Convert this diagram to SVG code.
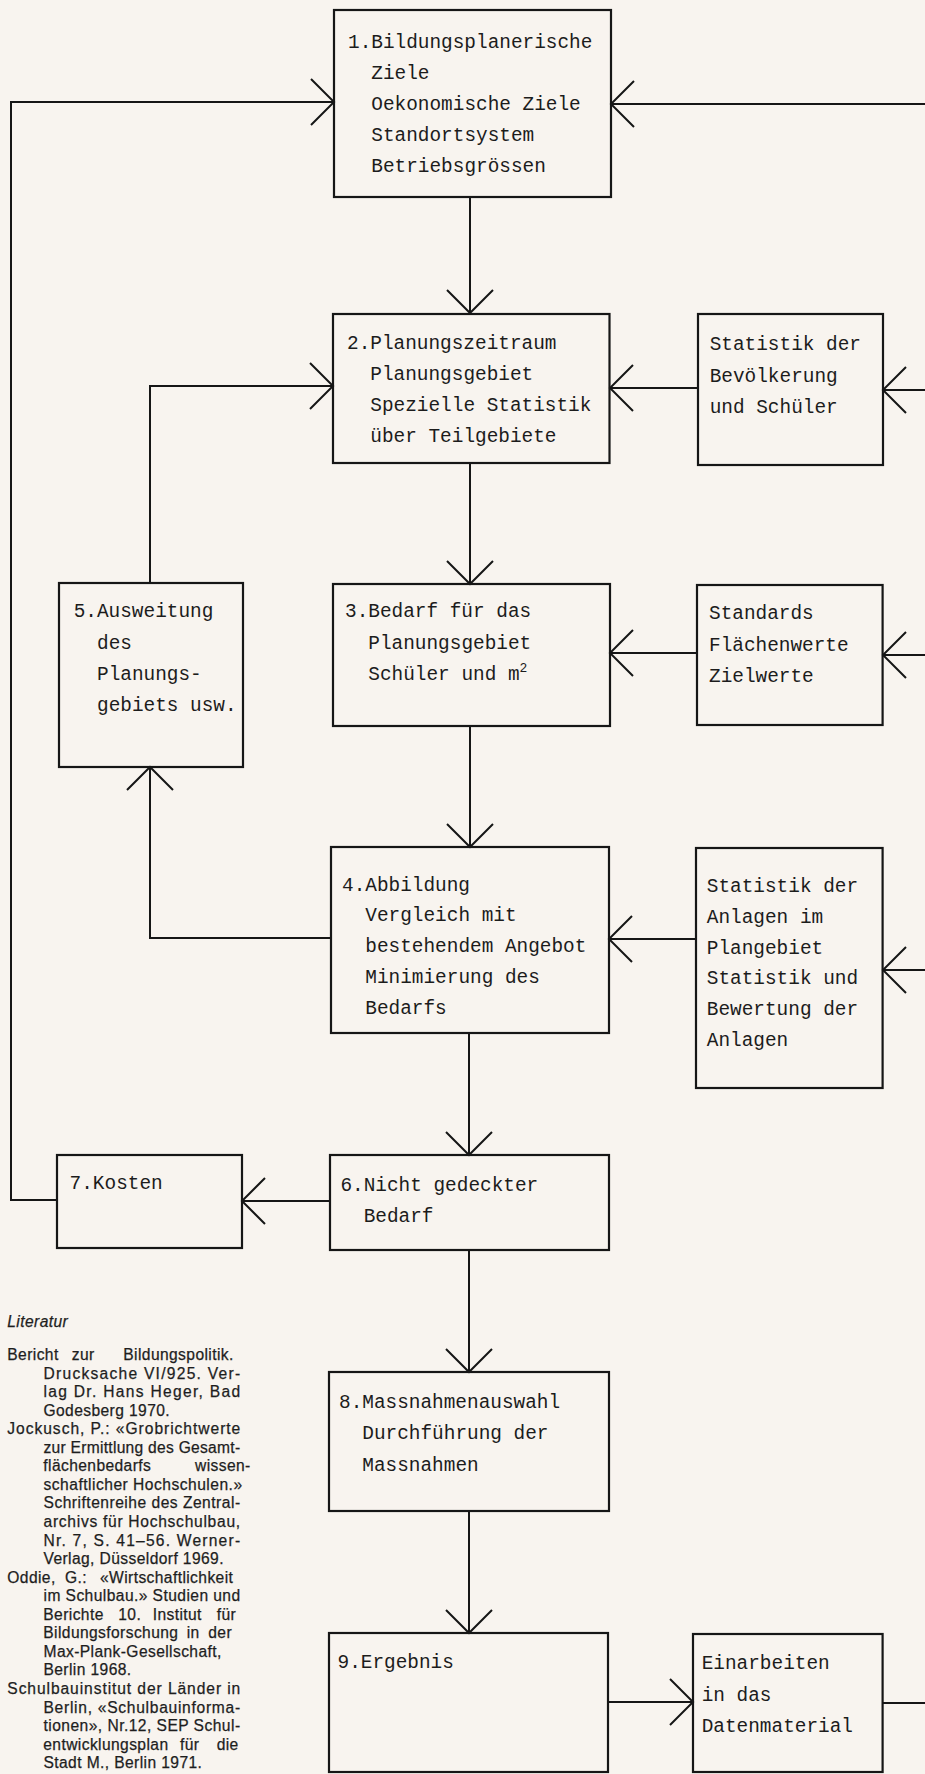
<svg xmlns="http://www.w3.org/2000/svg" width="925" height="1774" viewBox="0 0 925 1774">
<defs>
<style>
.box{fill:none;stroke:#161616;stroke-width:2.2}
.c{fill:none;stroke:#161616;stroke-width:2}
.t{font-family:"Liberation Mono","DejaVu Sans Mono",monospace;font-size:19.4px;fill:#1c1c1c}
.l{font-family:"Liberation Sans",Arial,sans-serif;font-size:15.6px;letter-spacing:0.4px;fill:#1e1e1e;stroke:#1e1e1e;stroke-width:0.25}
.it{font-style:italic}
</style>
<marker id="v" markerUnits="userSpaceOnUse" viewBox="-26 -26 28 52" refX="0" refY="0" markerWidth="28" markerHeight="52" orient="auto" overflow="visible">
<path d="M-23,-23 L0,0 L-23,23" fill="none" stroke="#161616" stroke-width="2"/>
</marker>
</defs>
<rect x="0" y="0" width="925" height="1774" fill="#f8f4ef"/>

<g id="connectors">
<path class="c" d="M57,1200 H11 V102 H334" marker-end="url(#v)"/>
<path class="c" d="M925,104 H611" marker-end="url(#v)"/>
<path class="c" d="M470,197 V313" marker-end="url(#v)"/>
<path class="c" d="M698,388 H610" marker-end="url(#v)"/>
<path class="c" d="M925,390 H883" marker-end="url(#v)"/>
<path class="c" d="M150,583 V386 H333" marker-end="url(#v)"/>
<path class="c" d="M470,463 V584" marker-end="url(#v)"/>
<path class="c" d="M697,653 H610" marker-end="url(#v)"/>
<path class="c" d="M925,655 H883" marker-end="url(#v)"/>
<path class="c" d="M331,938 H150 V767" marker-end="url(#v)"/>
<path class="c" d="M470,726 V847" marker-end="url(#v)"/>
<path class="c" d="M696,939 H609" marker-end="url(#v)"/>
<path class="c" d="M925,970 H883" marker-end="url(#v)"/>
<path class="c" d="M469,1033 V1155" marker-end="url(#v)"/>
<path class="c" d="M330,1201 H242" marker-end="url(#v)"/>
<path class="c" d="M469,1250 V1372" marker-end="url(#v)"/>
<path class="c" d="M469,1511 V1633" marker-end="url(#v)"/>
<path class="c" d="M608,1702 H693" marker-end="url(#v)"/>
<path class="c" d="M883,1703 H925"/>
</g>

<g id="n1">
<rect class="box" x="334" y="10" width="277" height="187"/>
<text class="t" x="348" y="47.5">1.Bildungsplanerische</text>
<text class="t" x="371.3" y="78.7">Ziele</text>
<text class="t" x="371.3" y="110">Oekonomische Ziele</text>
<text class="t" x="371.3" y="141.2">Standortsystem</text>
<text class="t" x="371.3" y="172.4">Betriebsgrössen</text>
</g>

<g id="n2">
<rect class="box" x="333" y="314" width="276.5" height="149"/>
<text class="t" x="347" y="349.3">2.Planungszeitraum</text>
<text class="t" x="370.3" y="380.3">Planungsgebiet</text>
<text class="t" x="370.3" y="411.3">Spezielle Statistik</text>
<text class="t" x="370.3" y="442.3">über Teilgebiete</text>
</g>

<g id="s1">
<rect class="box" x="698" y="314" width="185" height="151"/>
<text class="t" x="709.7" y="350">Statistik der</text>
<text class="t" x="709.7" y="381.5">Bevölkerung</text>
<text class="t" x="709.7" y="412.7">und Schüler</text>
</g>

<g id="n5">
<rect class="box" x="59" y="583" width="184" height="184"/>
<text class="t" x="73.7" y="617.3">5.Ausweitung</text>
<text class="t" x="97" y="648.5">des</text>
<text class="t" x="97" y="679.7">Planungs-</text>
<text class="t" x="97" y="710.9">gebiets usw.</text>
</g>

<g id="n3">
<rect class="box" x="333" y="584" width="277" height="142"/>
<text class="t" x="345" y="617.3">3.Bedarf für das</text>
<text class="t" x="368.3" y="648.5">Planungsgebiet</text>
<text class="t" x="368.3" y="679.7">Schüler und m<tspan font-size="13" dy="-8">2</tspan></text>
</g>

<g id="s2">
<rect class="box" x="697" y="585" width="185.6" height="140"/>
<text class="t" x="709" y="619.3">Standards</text>
<text class="t" x="709" y="650.5">Flächenwerte</text>
<text class="t" x="709" y="681.7">Zielwerte</text>
</g>

<g id="n4">
<rect class="box" x="331" y="847" width="278" height="186"/>
<text class="t" x="342" y="890.7">4.Abbildung</text>
<text class="t" x="365.3" y="921.3">Vergleich mit</text>
<text class="t" x="365.3" y="952">bestehendem Angebot</text>
<text class="t" x="365.3" y="983">Minimierung des</text>
<text class="t" x="365.3" y="1013.7">Bedarfs</text>
</g>

<g id="s3">
<rect class="box" x="696" y="848" width="186.6" height="240"/>
<text class="t" x="706.8" y="891.7">Statistik der</text>
<text class="t" x="706.8" y="922.7">Anlagen im</text>
<text class="t" x="706.8" y="953.5">Plangebiet</text>
<text class="t" x="706.8" y="984.3">Statistik und</text>
<text class="t" x="706.8" y="1015.1">Bewertung der</text>
<text class="t" x="706.8" y="1046">Anlagen</text>
</g>

<g id="n6">
<rect class="box" x="330" y="1155" width="279" height="95"/>
<text class="t" x="340.4" y="1190.7">6.Nicht gedeckter</text>
<text class="t" x="363.7" y="1221.7">Bedarf</text>
</g>

<g id="n7">
<rect class="box" x="57" y="1155" width="185" height="93"/>
<text class="t" x="69.6" y="1189">7.Kosten</text>
</g>

<g id="n8">
<rect class="box" x="329" y="1372" width="280" height="139"/>
<text class="t" x="339" y="1407.7">8.Massnahmenauswahl</text>
<text class="t" x="362.3" y="1439.3">Durchführung der</text>
<text class="t" x="362.3" y="1471">Massnahmen</text>
</g>

<g id="n9">
<rect class="box" x="329" y="1633" width="279" height="139"/>
<text class="t" x="337.5" y="1667.7">9.Ergebnis</text>
</g>

<g id="s4">
<rect class="box" x="693" y="1634" width="189.6" height="138"/>
<text class="t" x="701.7" y="1669">Einarbeiten</text>
<text class="t" x="701.7" y="1701">in das</text>
<text class="t" x="701.7" y="1731.7">Datenmaterial</text>
</g>

<g id="literatur">
<text class="l it" x="7.3" y="1327">Literatur</text>
<text class="l" y="1360"><tspan x="7.3">Bericht</tspan><tspan x="71.7">zur</tspan><tspan x="123.3">Bildungspolitik.</tspan></text>
<text class="l" x="43.5" y="1378.6" textLength="197" lengthAdjust="spacing">Drucksache VI/925. Ver-</text>
<text class="l" x="43.5" y="1397.1" textLength="197" lengthAdjust="spacing">lag Dr. Hans Heger, Bad</text>
<text class="l" x="43.5" y="1415.7">Godesberg 1970.</text>
<text class="l" x="7.3" y="1434.2" textLength="233.4" lengthAdjust="spacing">Jockusch, P.: «Grobrichtwerte</text>
<text class="l" x="43.5" y="1452.8" textLength="197" lengthAdjust="spacing">zur Ermittlung des Gesamt-</text>
<text class="l" y="1471.3"><tspan x="43.3">flächenbedarfs</tspan><tspan x="195">wissen-</tspan></text>
<text class="l" x="43.5" y="1489.9" textLength="199" lengthAdjust="spacing">schaftlicher Hochschulen.»</text>
<text class="l" x="43.5" y="1508.4" textLength="197" lengthAdjust="spacing">Schriftenreihe des Zentral-</text>
<text class="l" x="43.5" y="1527" textLength="197" lengthAdjust="spacing">archivs für Hochschulbau,</text>
<text class="l" x="43.5" y="1545.5" textLength="197" lengthAdjust="spacing">Nr. 7, S. 41–56. Werner-</text>
<text class="l" x="43.5" y="1564.1">Verlag, Düsseldorf 1969.</text>
<text class="l" y="1582.6"><tspan x="7.3">Oddie,</tspan><tspan x="65">G.:</tspan><tspan x="100">«Wirtschaftlichkeit</tspan></text>
<text class="l" x="43.5" y="1601.2" textLength="197" lengthAdjust="spacing">im Schulbau.» Studien und</text>
<text class="l" y="1619.7"><tspan x="43.3">Berichte</tspan><tspan x="118.3">10.</tspan><tspan x="152.7">Institut</tspan><tspan x="216.7">für</tspan></text>
<text class="l" y="1638.3"><tspan x="43.3">Bildungsforschung</tspan><tspan x="186.7">in</tspan><tspan x="208.3">der</tspan></text>
<text class="l" x="43.5" y="1656.8">Max-Plank-Gesellschaft,</text>
<text class="l" x="43.5" y="1675.4">Berlin 1968.</text>
<text class="l" x="7.3" y="1693.9" textLength="233.4" lengthAdjust="spacing">Schulbauinstitut der Länder in</text>
<text class="l" x="43.5" y="1712.5" textLength="197" lengthAdjust="spacing">Berlin, «Schulbauinforma-</text>
<text class="l" x="43.5" y="1731" textLength="197" lengthAdjust="spacing">tionen», Nr.12, SEP Schul-</text>
<text class="l" y="1749.6"><tspan x="43.3">entwicklungsplan</tspan><tspan x="180">für</tspan><tspan x="216.7">die</tspan></text>
<text class="l" x="43.5" y="1768.1">Stadt M., Berlin 1971.</text>
</g>
</svg>
